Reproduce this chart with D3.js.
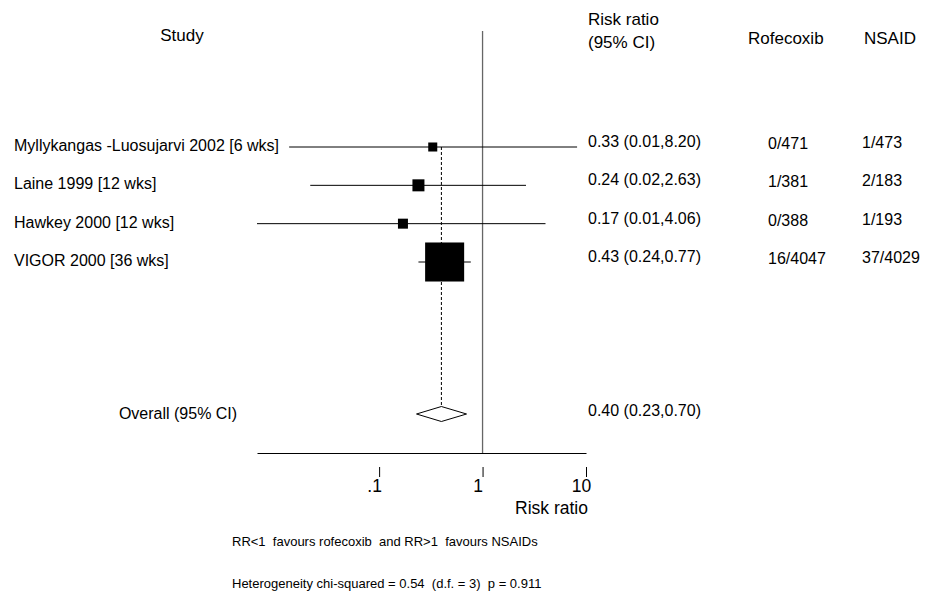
<!DOCTYPE html>
<html>
<head>
<meta charset="utf-8">
<script src="https://cdn.jsdelivr.net/npm/d3@7"></script>
<style>
  body { margin: 0; background: #fff; }
  svg text { font-family: "Liberation Sans", Arial, sans-serif; fill: #000; white-space: pre; }
</style>
</head>
<body>
<svg id="chart" width="948" height="597"></svg>
<script>
// study rows
const studies = ["Myllykangas -Luosujarvi 2002 [6 wks]", "Laine 1999 [12 wks]", "Hawkey 2000 [12 wks]", "VIGOR 2000 [36 wks]"];
const riskRatio = [0.33, 0.24, 0.17, 0.43];
const ciLower = [0.0135, 0.0216, 0.0066, 0.24];
const ciUpper = [8.20, 2.63, 4.06, 0.77];
const weights = [4.4, 7.8, 5.4, 82.4];
const rofecoxib = ["0/471", "1/381", "0/388", "16/4047"];
const nsaid = ["1/473", "2/183", "1/193", "37/4029"];

// pooled estimate
const overall = { rr: 0.40, lo: 0.23, hi: 0.70 };

const tickValues = [0.1, 1, 10];
const tickLabels = [".1", "1", "10"];

const svg = d3.select("#chart");
const fmt = d3.format(".2f");

const rows = studies.map((s, i) => ({
	study: s, rr: riskRatio[i], lo: ciLower[i], hi: ciUpper[i],
	w: weights[i], rof: rofecoxib[i], ns: nsaid[i]
}));

// scales
const x = d3.scaleLog()
	.domain([d3.min(ciLower), d3.max(tickValues)])
	.range([257, 586]);

const y = d3.scalePoint()
	.domain(studies)
	.range([147, 262]);

const size = d3.scaleSqrt()
	.domain([0, 100])
	.range([0, 43]);

const yOverall = 414;
const yAxis = 453;

// headers
svg.append("text").attr("x", 182).attr("y", 41).attr("text-anchor", "middle")
	.style("font-size", "17px").text("Study");
svg.append("text").attr("x", 588).attr("y", 25)
	.style("font-size", "17px").text("Risk ratio");
svg.append("text").attr("x", 588).attr("y", 48)
	.style("font-size", "17px").text("(95% CI)");
svg.append("text").attr("x", 748).attr("y", 44)
	.style("font-size", "17px").text("Rofecoxib");
svg.append("text").attr("x", 864).attr("y", 44)
	.style("font-size", "17px").text("NSAID");

// line of no effect
svg.append("line")
	.attr("x1", x(1)).attr("x2", x(1))
	.attr("y1", 31).attr("y2", yAxis)
	.attr("stroke", "#666").attr("stroke-width", 1.3);

// dashed line at pooled estimate
svg.append("line")
	.attr("x1", x(overall.rr)).attr("x2", x(overall.rr))
	.attr("y1", y(studies[0])).attr("y2", yOverall)
	.attr("stroke", "#000").attr("stroke-width", 1)
	.attr("stroke-dasharray", "3,2");

var row = svg.selectAll(".row")
	.data(rows)
	.join("g")
	.attr("class", "row");

// confidence intervals
row.append("line")
	.attr("x1", d => x(Math.max(d.lo, x.domain()[0])))
	.attr("x2", d => x(Math.min(d.hi, x.domain()[1])))
	.attr("y1", d => y(d.study)).attr("y2", d => y(d.study))
	.attr("stroke", "#000").attr("stroke-width", 1);

// weighted squares
row.append("rect")
	.attr("x", d => x(d.rr) - size(d.w) / 2)
	.attr("y", d => y(d.study) - size(d.w) / 2)
	.attr("width", d => size(d.w))
	.attr("height", d => size(d.w))
	.attr("fill", "#000");

row.append("text")
	.attr("x", 14).attr("y", d => y(d.study) + 4)
	.style("font-size", "16px")
	.text(d => d.study);

row.append("text")
	.attr("x", 588).attr("y", d => y(d.study))
	.style("font-size", "16px")
	.text(d => `${fmt(d.rr)} (${fmt(d.lo)},${fmt(d.hi)})`);

row.append("text")
	.attr("x", 768).attr("y", d => y(d.study) + 2)
	.style("font-size", "16px")
	.text(d => d.rof);

row.append("text")
	.attr("x", 862).attr("y", d => y(d.study) + 1)
	.style("font-size", "16px")
	.text(d => d.ns);

// overall diamond
const dh = 7.5;
svg.append("path")
	.attr("d", d3.line()([
		[x(overall.lo), yOverall],
		[x(overall.rr), yOverall - dh],
		[x(overall.hi), yOverall],
		[x(overall.rr), yOverall + dh]
	]) + "Z")
	.attr("fill", "#fff").attr("stroke", "#000").attr("stroke-width", 1);

svg.append("text").attr("x", 178).attr("y", yOverall + 5).attr("text-anchor", "middle")
	.style("font-size", "16px").text("Overall (95% CI)");
svg.append("text").attr("x", 588).attr("y", yOverall + 2)
	.style("font-size", "16px")
	.text(`${fmt(overall.rr)} (${fmt(overall.lo)},${fmt(overall.hi)})`);

// x axis line
svg.append("g")
	.attr("transform", `translate(0,${yAxis})`)
	.call(d3.axisBottom(x).tickValues([]).tickSizeOuter(0))
	.call(g => g.select(".domain").attr("stroke", "#000").attr("stroke-width", 1.2));

// detached ticks and labels
svg.append("g")
	.attr("transform", `translate(0,${yAxis + 14})`)
	.call(d3.axisBottom(x).tickValues(tickValues)
		.tickFormat((d, i) => tickLabels[i])
		.tickSize(10).tickPadding(3))
	.call(g => g.select(".domain").remove())
	.call(g => g.selectAll(".tick line").attr("stroke", "#000").attr("stroke-width", 1))
	.call(g => g.selectAll(".tick text")
		.attr("dx", -5)
		.style("font-family", "'Liberation Sans', Arial, sans-serif")
		.style("font-size", "17.5px").attr("fill", "#000"));

svg.append("text").attr("x", 588).attr("y", 514).attr("text-anchor", "end")
	.style("font-size", "17.5px").text("Risk ratio");

// footnotes
svg.append("text").attr("x", 232).attr("y", 546)
	.style("font-size", "13px")
	.text("RR<1  favours rofecoxib  and RR>1  favours NSAIDs");
svg.append("text").attr("x", 232).attr("y", 588)
	.style("font-size", "13px")
	.text("Heterogeneity chi-squared = 0.54  (d.f. = 3)  p = 0.911");
</script>
</body>
</html>
